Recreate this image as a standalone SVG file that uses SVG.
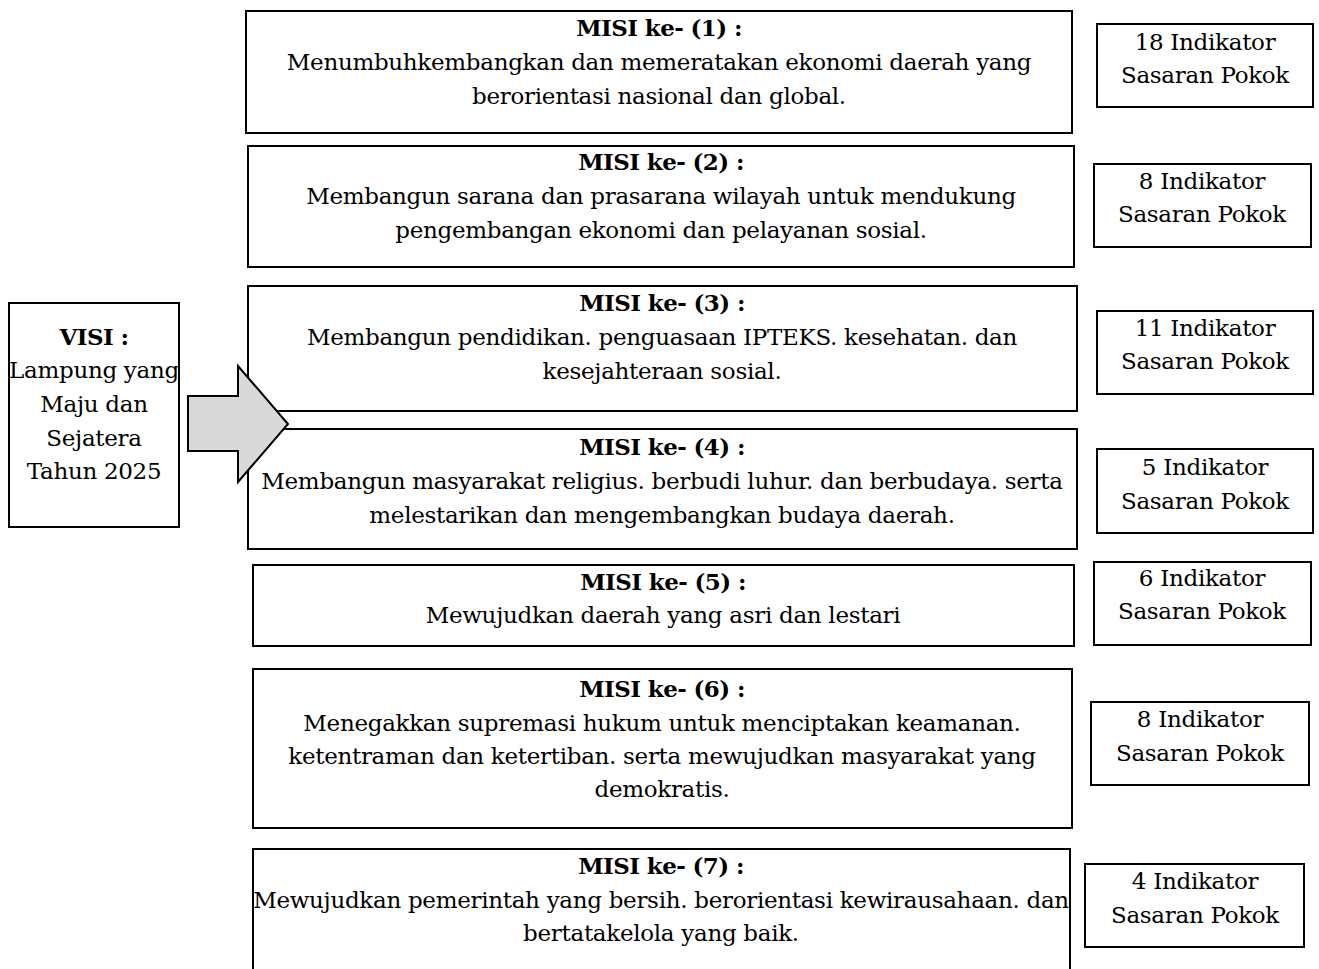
<svg xmlns="http://www.w3.org/2000/svg" width="1319" height="969" viewBox="0 0 1319 969">
<style>
.box{fill:#fff;stroke:#000;stroke-width:2}
.t{font-family:"DejaVu Serif","Liberation Serif",serif;font-size:23px;letter-spacing:-0.3px;fill:#000;text-anchor:middle}
.b{font-weight:bold;letter-spacing:-0.6px}
.arr{fill:#d9d9d9;stroke:#000;stroke-width:2;stroke-linejoin:miter}
</style>
<rect width="1319" height="969" fill="#fff"/>
<g id="visi">
<rect class="box" x="9" y="303" width="170" height="224"/>
<text class="t b" x="94" y="345">VISI :</text>
<text class="t" x="94" y="378">Lampung yang</text>
<text class="t" x="94" y="412">Maju dan</text>
<text class="t" x="94" y="446">Sejatera</text>
<text class="t" x="94" y="479">Tahun 2025</text>
</g>
<g id="misi1">
<rect class="box" x="246" y="11" width="826" height="122"/>
<text class="t b" x="659" y="36">MISI ke- (1) :</text>
<text class="t" x="659" y="70">Menumbuhkembangkan dan memeratakan ekonomi daerah yang</text>
<text class="t" x="659" y="104">berorientasi nasional dan global.</text>
</g>
<g id="misi2">
<rect class="box" x="248" y="146" width="826" height="121"/>
<text class="t b" x="661" y="170">MISI ke- (2) :</text>
<text class="t" x="661" y="204">Membangun sarana dan prasarana wilayah untuk mendukung</text>
<text class="t" x="661" y="238">pengembangan ekonomi dan pelayanan sosial.</text>
</g>
<g id="misi3">
<rect class="box" x="248" y="286" width="829" height="125"/>
<text class="t b" x="662" y="311">MISI ke- (3) :</text>
<text class="t" x="662" y="345">Membangun pendidikan. penguasaan IPTEKS. kesehatan. dan</text>
<text class="t" x="662" y="379">kesejahteraan sosial.</text>
</g>
<g id="misi4">
<rect class="box" x="248" y="429" width="829" height="120"/>
<text class="t b" x="662" y="455">MISI ke- (4) :</text>
<text class="t" x="662" y="489">Membangun masyarakat religius. berbudi luhur. dan berbudaya. serta</text>
<text class="t" x="662" y="523">melestarikan dan mengembangkan budaya daerah.</text>
</g>
<g id="misi5">
<rect class="box" x="253" y="565" width="821" height="81"/>
<text class="t b" x="663" y="590">MISI ke- (5) :</text>
<text class="t" x="663" y="623">Mewujudkan daerah yang asri dan lestari</text>
</g>
<g id="misi6">
<rect class="box" x="253" y="669" width="819" height="159"/>
<text class="t b" x="662" y="697">MISI ke- (6) :</text>
<text class="t" x="662" y="731">Menegakkan supremasi hukum untuk menciptakan keamanan.</text>
<text class="t" x="662" y="764">ketentraman dan ketertiban. serta mewujudkan masyarakat yang</text>
<text class="t" x="662" y="797">demokratis.</text>
</g>
<g id="misi7">
<rect class="box" x="253" y="849" width="817" height="140"/>
<text class="t b" x="661" y="874">MISI ke- (7) :</text>
<text class="t" x="661" y="908">Mewujudkan pemerintah yang bersih. berorientasi kewirausahaan. dan</text>
<text class="t" x="661" y="941">bertatakelola yang baik.</text>
</g>
<g id="ind1">
<rect class="box" x="1097" y="24" width="216" height="83"/>
<text class="t" x="1205" y="50">18 Indikator</text>
<text class="t" x="1205" y="83">Sasaran Pokok</text>
</g>
<g id="ind2">
<rect class="box" x="1094" y="164" width="217" height="83"/>
<text class="t" x="1202" y="189">8 Indikator</text>
<text class="t" x="1202" y="222">Sasaran Pokok</text>
</g>
<g id="ind3">
<rect class="box" x="1097" y="311" width="216" height="83"/>
<text class="t" x="1205" y="336">11 Indikator</text>
<text class="t" x="1205" y="369">Sasaran Pokok</text>
</g>
<g id="ind4">
<rect class="box" x="1097" y="449" width="216" height="84"/>
<text class="t" x="1205" y="475">5 Indikator</text>
<text class="t" x="1205" y="509">Sasaran Pokok</text>
</g>
<g id="ind5">
<rect class="box" x="1094" y="562" width="217" height="83"/>
<text class="t" x="1202" y="586">6 Indikator</text>
<text class="t" x="1202" y="619">Sasaran Pokok</text>
</g>
<g id="ind6">
<rect class="box" x="1091" y="702" width="218" height="83"/>
<text class="t" x="1200" y="727">8 Indikator</text>
<text class="t" x="1200" y="761">Sasaran Pokok</text>
</g>
<g id="ind7">
<rect class="box" x="1085" y="864" width="219" height="83"/>
<text class="t" x="1195" y="889">4 Indikator</text>
<text class="t" x="1195" y="923">Sasaran Pokok</text>
</g>
<g id="connectors">
<polygon class="arr" points="188,396 238,396 238,366 288,424 238,482 238,451 188,451"/>
</g>
</svg>
